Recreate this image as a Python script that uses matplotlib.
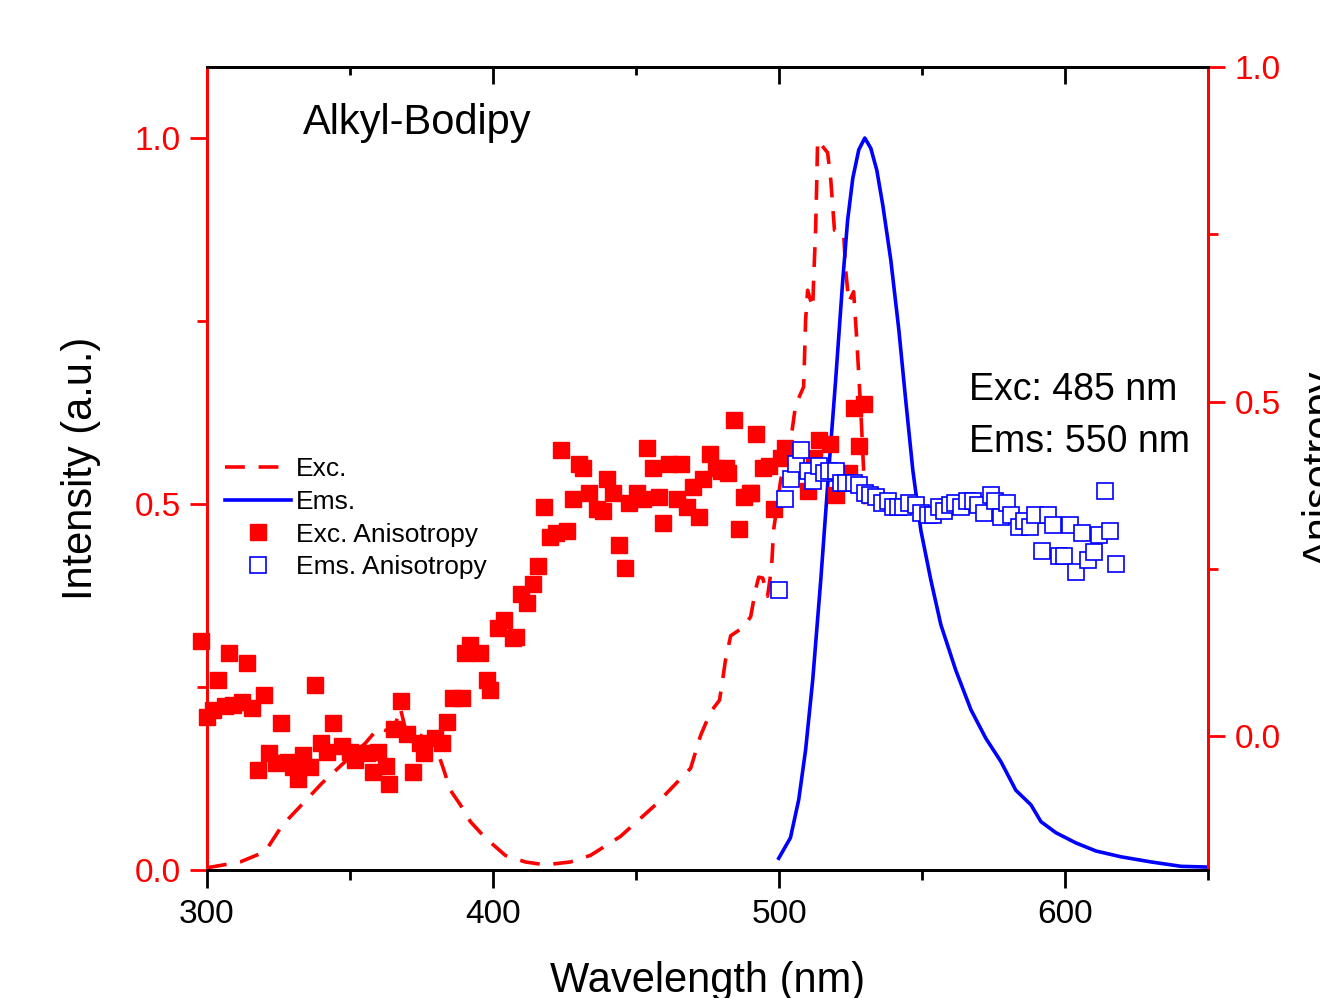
import matplotlib.pyplot as plt
import numpy as np

plt.rcParams['font.family'] = ['Liberation Sans', 'DejaVu Sans']

# excitation spectrum (normalised)
exc_wl = [300.0, 311.6, 320.3, 326.3, 332.6, 340.3, 348.3, 355.3, 359.9, 363.0,
          365.8, 367.6, 369.3, 374.6, 379.8, 382.6, 385.1, 388.6, 392.1, 397.3,
          404.3, 411.3, 418.3, 427.1, 434.1, 444.6, 456.8, 469.1, 472.6, 476.1,
          479.2, 480.3, 481.3, 483.1, 487.3, 490.1, 491.8, 492.9, 494.3, 496.0,
          497.4, 498.1, 500.6, 504.1, 505.8, 508.6, 509.0, 509.3, 510.0, 511.8,
          512.1, 512.8, 513.2, 513.5, 517.0, 518.1, 519.4, 522.6, 523.3, 524.4,
          526.1, 527.2, 528.6, 529.6, 530.0]
exc_int = [0.003, 0.011, 0.025, 0.061, 0.087, 0.119, 0.148, 0.173, 0.194, 0.190,
           0.198, 0.221, 0.194, 0.184, 0.171, 0.139, 0.109, 0.089, 0.066, 0.044,
           0.020, 0.011, 0.007, 0.011, 0.020, 0.046, 0.089, 0.139, 0.184, 0.216,
           0.232, 0.260, 0.287, 0.320, 0.331, 0.346, 0.383, 0.400, 0.399, 0.374,
           0.413, 0.464, 0.533, 0.587, 0.635, 0.660, 0.710, 0.751, 0.792, 0.768,
           0.806, 0.874, 0.940, 0.997, 0.980, 0.943, 0.874, 0.870, 0.820, 0.776,
           0.790, 0.724, 0.628, 0.546, 0.499]

# emission spectrum (normalised)
ems_wl = [499.9, 504.0, 506.9, 509.3, 511.8, 514.6, 517.4, 519.8, 522.3, 524.0,
          525.8, 527.9, 530.0, 532.1, 534.2, 536.3, 539.1, 541.9, 544.3, 546.8,
          549.6, 553.1, 556.6, 561.8, 567.1, 572.3, 577.6, 582.8, 588.1, 591.6,
          596.8, 603.8, 610.8, 619.6, 630.1, 640.6, 650.0]
ems_int = [0.016, 0.044, 0.096, 0.164, 0.260, 0.396, 0.546, 0.669, 0.806, 0.888,
           0.945, 0.984, 1.000, 0.986, 0.956, 0.908, 0.833, 0.738, 0.642, 0.546,
           0.464, 0.396, 0.335, 0.273, 0.219, 0.180, 0.148, 0.109, 0.089, 0.066,
           0.051, 0.037, 0.026, 0.018, 0.011, 0.005, 0.004]

# excitation anisotropy
exca_wl = [297.9, 300.0, 302.1, 303.9, 306.3, 307.7, 309.1, 312.3, 314.0, 315.8,
           317.9, 320.0, 321.7, 324.2, 325.9, 328.4, 330.1, 331.9, 333.6, 336.0,
           337.8, 339.9, 342.0, 344.1, 347.3, 350.0, 351.8, 356.0, 358.1, 359.9,
           362.7, 363.7, 365.5, 367.9, 370.0, 372.1, 374.6, 376.0, 379.8, 382.3,
           384.0, 386.1, 389.3, 390.3, 392.1, 395.6, 398.0, 399.0, 401.9, 404.0,
           407.1, 408.2, 409.9, 412.0, 414.1, 415.9, 418.0, 420.1, 422.2, 423.9,
           426.0, 428.1, 429.9, 431.6, 433.7, 436.2, 438.3, 440.0, 442.1, 443.9,
           446.0, 447.7, 450.2, 452.3, 454.0, 455.8, 457.9, 459.6, 461.7, 464.2,
           465.9, 468.0, 470.1, 471.9, 473.5, 476.0, 477.8, 479.6, 481.3, 482.0,
           484.1, 485.9, 487.6, 489.7, 490.1, 491.8, 494.3, 496.4, 498.1, 500.6,
           502.0, 510.0, 512.1, 513.9, 517.7, 519.8, 524.4, 526.1, 527.9, 529.6]
exca_val = [0.142, 0.028, 0.039, 0.084, 0.045, 0.125, 0.046, 0.051, 0.109, 0.042,
            -0.051, 0.061, -0.025, -0.040, 0.019, -0.039, -0.046, -0.064, -0.028, -0.046,
            0.076, -0.010, -0.024, 0.019, -0.015, -0.024, -0.036, -0.025, -0.054, -0.024,
            -0.045, -0.072, 0.010, 0.052, 0.003, -0.054, -0.010, -0.025, -0.003, -0.010,
            0.021, 0.057, 0.057, 0.125, 0.136, 0.124, 0.084, 0.069, 0.161, 0.173,
            0.146, 0.148, 0.212, 0.199, 0.227, 0.254, 0.342, 0.297, 0.303, 0.428,
            0.306, 0.354, 0.407, 0.401, 0.364, 0.339, 0.337, 0.385, 0.363, 0.285,
            0.252, 0.349, 0.364, 0.354, 0.431, 0.400, 0.358, 0.318, 0.407, 0.355,
            0.407, 0.343, 0.372, 0.327, 0.385, 0.422, 0.400, 0.397, 0.400, 0.394,
            0.472, 0.310, 0.357, 0.363, 0.364, 0.452, 0.401, 0.404, 0.340, 0.416,
            0.430, 0.367, 0.416, 0.442, 0.437, 0.360, 0.393, 0.490, 0.434, 0.497]

# emission anisotropy
emsa_wl = [499.9, 502.0, 504.1, 505.8, 507.6, 510.0, 511.8, 513.9, 515.6, 517.4,
           519.8, 521.6, 523.6, 526.1, 527.9, 530.0, 531.7, 533.8, 535.9, 538.0,
           539.8, 541.5, 543.3, 545.4, 547.8, 549.6, 552.0, 553.8, 555.9, 557.6,
           559.7, 561.5, 563.6, 565.7, 567.8, 569.5, 571.6, 574.0, 575.5, 577.6,
           579.7, 581.1, 583.9, 585.6, 587.7, 589.4, 591.9, 594.0, 595.8, 597.9,
           599.6, 601.7, 603.8, 605.9, 608.0, 610.1, 611.9, 614.0, 615.7, 617.8]
emsa_val = [0.219, 0.354, 0.384, 0.407, 0.427, 0.397, 0.382, 0.404, 0.393, 0.397,
            0.397, 0.378, 0.379, 0.378, 0.375, 0.364, 0.360, 0.357, 0.349, 0.352,
            0.342, 0.342, 0.342, 0.349, 0.345, 0.334, 0.330, 0.331, 0.343, 0.337,
            0.345, 0.349, 0.342, 0.351, 0.352, 0.345, 0.334, 0.361, 0.352, 0.327,
            0.349, 0.330, 0.312, 0.322, 0.312, 0.330, 0.276, 0.330, 0.316, 0.269,
            0.269, 0.316, 0.246, 0.303, 0.264, 0.275, 0.300, 0.367, 0.306, 0.258]

fig = plt.figure(figsize=(13.2, 9.98), dpi=100)
ax = fig.add_axes([207/1320, 1-870/998, 1001/1320, 803/998])
ax2 = ax.twinx()

l1, = ax.plot(exc_wl, exc_int, color='#ff0000', lw=2.6, ls=(0, (5.5, 3.8)), label='Exc.')
l2, = ax.plot(ems_wl, ems_int, color='#0000ff', lw=2.6, label='Ems.')
p1, = ax2.plot(exca_wl, exca_val, ls='none', marker='s', ms=11, color='#ff0000',
               mec='#ff0000', label='Exc. Anisotropy', clip_on=False)
p2, = ax2.plot(emsa_wl, emsa_val, ls='none', marker='s', ms=11, mfc='white',
               mec='#0000ff', mew=1.2, label='Ems. Anisotropy')

ax.set_xlim(300, 650)
ax.set_ylim(0, 1.097)
ax2.set_ylim(-0.2, 1.0)

ax.set_xticks([300, 400, 500, 600])
ax.set_xticks([350, 450, 550, 650], minor=True)
ax.set_yticks([0, 0.5, 1.0])
ax.set_yticks([0.25, 0.75], minor=True)
ax2.set_yticks([0, 0.5, 1.0])
ax2.set_yticks([0.25, 0.75], minor=True)

for a in (ax, ax2):
    for s in a.spines.values():
        s.set_linewidth(2)
    a.spines['left'].set_color('#ff0000')
    a.spines['right'].set_color('#ff0000')

ax.tick_params(axis='x', which='major', length=13, width=2, pad=8, labelsize=24, direction='out')
ax.tick_params(axis='x', which='minor', length=7, width=2, direction='out')
ax.tick_params(axis='y', which='major', length=12, width=2, pad=7, labelsize=24,
               colors='#ff0000', direction='out')
ax.tick_params(axis='y', which='minor', length=7, width=2, colors='#ff0000', direction='out')
ax2.tick_params(axis='y', which='major', length=12, width=2, pad=7, labelsize=24,
                colors='#ff0000', direction='out')
ax2.tick_params(axis='y', which='minor', length=7, width=2, colors='#ff0000', direction='out')
ax.yaxis.set_major_formatter(plt.FormatStrFormatter('%.1f'))
ax2.yaxis.set_major_formatter(plt.FormatStrFormatter('%.1f'))

top = ax.secondary_xaxis('top')
top.set_xticks([300, 400, 500, 600])
top.set_xticks([350, 450, 550, 650], minor=True)
top.tick_params(which='major', direction='in', length=12, width=2, labeltop=False)
top.tick_params(which='minor', direction='in', length=6, width=2)
top.spines['top'].set_linewidth(2)

ax.set_xlabel('Wavelength (nm)', fontsize=30, labelpad=22)
ax.set_ylabel('Intensity (a.u.)', fontsize=30, labelpad=24)
ax2.set_ylabel('Anisotropy', fontsize=30, labelpad=15)

ax.text(333.6, 1.02, 'Alkyl-Bodipy', fontsize=30, va='center', ha='left')
ax.text(566.4, 0.656, 'Exc: 485 nm', fontsize=27, va='center', ha='left')
ax.text(566.4, 0.585, 'Ems: 550 nm', fontsize=27, va='center', ha='left')

ax2.legend(handles=[l1, l2, p1, p2], loc='upper left', bbox_to_anchor=(0.018, 0.514),
           frameon=False, fontsize=19, handlelength=2.5, handletextpad=0.2,
           labelspacing=0.33, borderpad=0, borderaxespad=0)

fig.savefig('out.png', dpi=100)
